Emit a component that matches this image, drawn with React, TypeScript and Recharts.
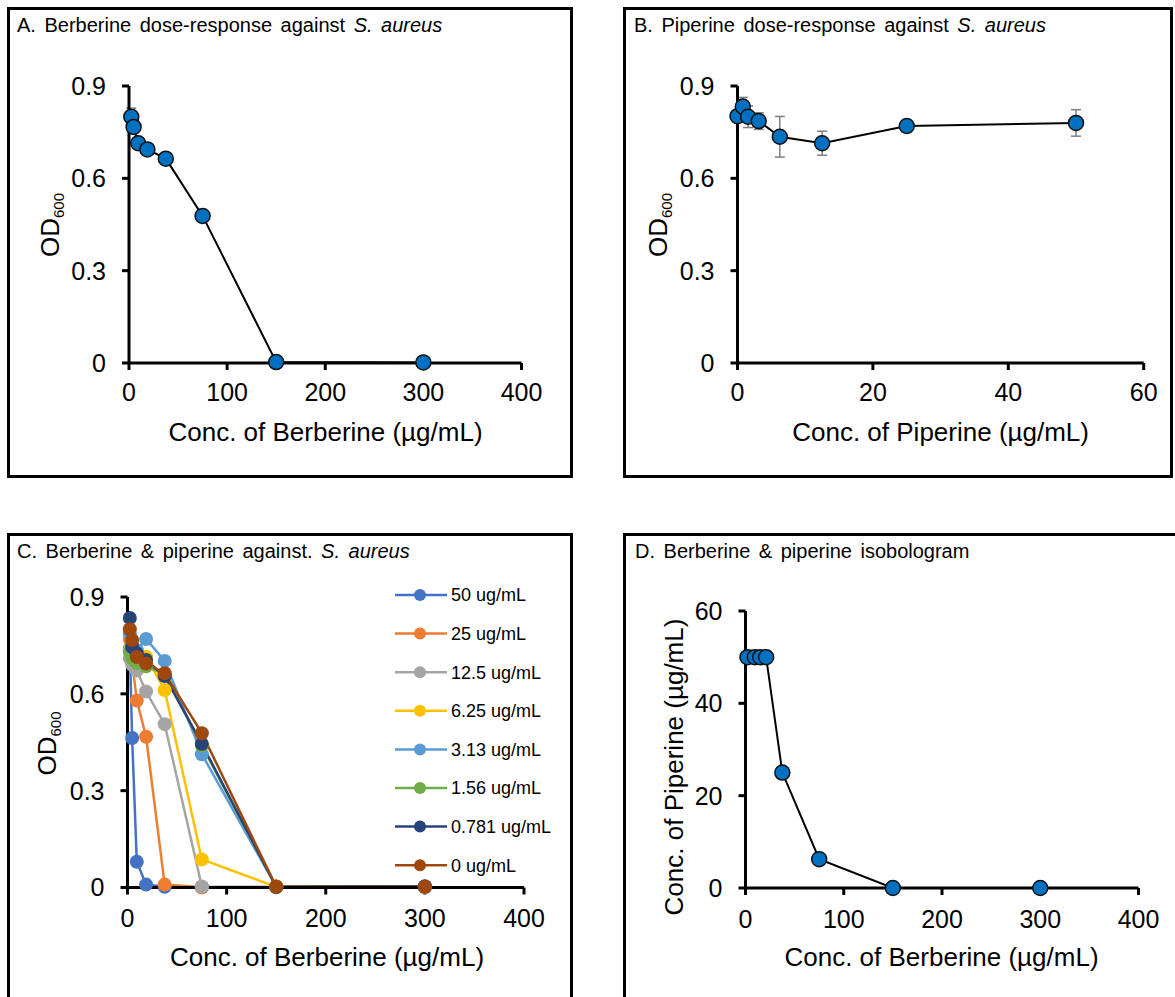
import React from "react";
import { LineChart, Line, XAxis, YAxis, ErrorBar, Legend } from "recharts";

const font = "'Liberation Sans', Arial, sans-serif";

// berberine two-fold dilution series (µg/mL)
const berberineConc = [2.34, 4.69, 9.38, 18.75, 37.5, 75, 150, 300];
const berberineOd = [0.8, 0.767, 0.714, 0.694, 0.664, 0.478, 0.003, 0.002];
const berberineErr = [0.028, 0.02, 0.015, 0.01, 0.01, 0.008, 0.002, 0.001];

// piperine alone (µg/mL)
const piperineConc = [0, 0.781, 1.56, 3.13, 6.25, 12.5, 25, 50];
const piperineOd = [0.802, 0.833, 0.8, 0.786, 0.735, 0.714, 0.77, 0.78];
const piperineErr = [0.01, 0.03, 0.035, 0.027, 0.066, 0.039, 0.02, 0.043];

// berberine + fixed piperine, one array per piperine level
const comboLabels = [
  "50 ug/mL",
  "25 ug/mL",
  "12.5 ug/mL",
  "6.25 ug/mL",
  "3.13 ug/mL",
  "1.56 ug/mL",
  "0.781 ug/mL",
  "0 ug/mL",
];
const od50 = [0.74, 0.463, 0.08, 0.009, 0.002, 0.001, 0.001, 0.001];
const od25 = [0.77, 0.7, 0.579, 0.467, 0.009, 0.001, 0.001, 0.001];
const od12_5 = [0.71, 0.69, 0.672, 0.607, 0.506, 0.003, 0.002, 0.002];
const od6_25 = [0.735, 0.725, 0.72, 0.715, 0.612, 0.087, 0.002, 0.002];
const od3_13 = [0.785, 0.75, 0.735, 0.77, 0.702, 0.413, 0.002, 0.002];
const od1_56 = [0.73, 0.71, 0.695, 0.685, 0.66, 0.44, 0.002, 0.002];
const od0_781 = [0.835, 0.745, 0.725, 0.705, 0.655, 0.445, 0.002, 0.004];
const comboValues = [od50, od25, od12_5, od6_25, od3_13, od1_56, od0_781, berberineOd];
const comboColors = ["#4472C4", "#ED7D31", "#A5A5A5", "#FFC000", "#5B9BD5", "#70AD47", "#264478", "#9E480E"];

// isobologram: berberine vs piperine at inhibition
const isoBerberine = [2, 9.5, 15, 21, 37.5, 75, 150, 300];
const isoPiperine = [50, 50, 50, 50, 25, 6.25, 0, 0];

const odTicks = [0, 0.3, 0.6, 0.9];
const berberineTicks = [0, 100, 200, 300, 400];
const piperineTicks = [0, 20, 40, 60];

const dataA = berberineConc.map((x, i) => ({ x, y: berberineOd[i], err: berberineErr[i] }));
const dataB = piperineConc.map((x, i) => ({ x, y: piperineOd[i], err: piperineErr[i] }));
const dataC = berberineConc.map((x, i) => {
  const row: Record<string, number> = { x };
  comboValues.forEach((vals, k) => {
    row[`s${k}`] = vals[i];
  });
  return row;
});
const dataD = isoBerberine.map((x, i) => ({ x, y: isoPiperine[i] }));

const axisLine = { stroke: "#000", strokeWidth: 3 };
const tickStyle = { fill: "#000", fontSize: 25, fontFamily: font };
const blueDot = { r: 7.5, fill: "#0070C0", stroke: "#111", strokeWidth: 1.5 };

const Frame = ({ left, top, width, height }: { left: number; top: number; width: number; height: number }) => (
  <div
    style={{
      position: "absolute",
      left,
      top,
      width,
      height,
      border: "3px solid #000",
      boxSizing: "border-box",
    }}
  />
);

const Title = ({ left, top, children }: { left: number; top: number; children: React.ReactNode }) => (
  <div
    style={{
      position: "absolute",
      left,
      top,
      fontSize: 20,
      lineHeight: "20px",
      wordSpacing: 3,
      whiteSpace: "nowrap",
      color: "#000",
    }}
  >
    {children}
  </div>
);

const odTitle = (x: number, y: number) => () =>
  (
    <text transform={`translate(${x},${y}) rotate(-90)`} textAnchor="middle" fontSize={26} fontFamily={font} fill="#000">
      OD
      <tspan fontSize={15} dy={5}>
        600
      </tspan>
    </text>
  );

const plainTitle = (x: number, y: number, text: string, rotate = false) => () =>
  (
    <text
      transform={rotate ? `translate(${x},${y}) rotate(-90)` : `translate(${x},${y})`}
      textAnchor="middle"
      fontSize={26}
      fontFamily={font}
      fill="#000"
    >
      {text}
    </text>
  );

const ComboLegend = () => (
  <svg width={180} height={320} style={{ display: "block" }}>
    {comboLabels.map((label, i) => {
      const cy = 13 + i * 38.6;
      return (
        <g key={label}>
          <line x1={3} x2={55} y1={cy} y2={cy} stroke={comboColors[i]} strokeWidth={2.5} />
          <circle cx={28} cy={cy} r={6} fill={comboColors[i]} />
          <text x={59} y={cy} dy="0.35em" fontSize={18} fontFamily={font} fill="#000">
            {label}
          </text>
        </g>
      );
    })}
  </svg>
);

export default function App() {
  return (
    <div
      style={{
        position: "absolute",
        left: 0,
        top: 0,
        width: 1175,
        height: 997,
        overflow: "hidden",
        background: "#fff",
        fontFamily: font,
      }}
    >
      <Frame left={7} top={7} width={566} height={471} />
      <Frame left={623} top={7} width={550} height={471} />
      <Frame left={7} top={533} width={566} height={480} />
      <Frame left={623} top={533} width={560} height={480} />

      <Title left={17} top={15}>
        A. Berberine dose-response against <i>S. aureus</i>
      </Title>
      <Title left={634} top={15}>
        B. Piperine dose-response against <i>S. aureus</i>
      </Title>
      <Title left={17} top={541}>
        C. Berberine &amp; piperine against. <i>S. aureus</i>
      </Title>
      <Title left={635} top={541}>
        D. Berberine &amp; piperine isobologram
      </Title>

      {/* A: berberine alone */}
      <div style={{ position: "absolute", left: 8, top: 8 }}>
        <LineChart width={564} height={469} data={dataA} margin={{ left: 0, top: 78, right: 50.5, bottom: 0 }}>
          <XAxis
            type="number"
            dataKey="x"
            domain={[0, 400]}
            ticks={berberineTicks}
            interval={0}
            height={114}
            axisLine={axisLine}
            tickLine={axisLine}
            tickSize={7}
            tickMargin={13}
            tick={tickStyle}
            label={plainTitle(317.5, 433, "Conc. of Berberine (µg/mL)")}
          />
          <YAxis
            type="number"
            domain={[0, 0.9]}
            ticks={odTicks}
            interval={0}
            width={121}
            axisLine={axisLine}
            tickLine={axisLine}
            tickSize={7}
            tickMargin={16}
            tick={tickStyle}
            label={odTitle(51, 217)}
          />
          <Line
            dataKey="y"
            stroke="#000"
            strokeWidth={2}
            dot={blueDot}
            activeDot={false}
            isAnimationActive={false}
          >
            <ErrorBar dataKey="err" direction="y" width={5} stroke="#7f7f7f" strokeWidth={1.5} />
          </Line>
        </LineChart>
      </div>

      {/* B: piperine alone */}
      <div style={{ position: "absolute", left: 624, top: 8 }}>
        <LineChart width={548} height={469} data={dataB} margin={{ left: 0, top: 78, right: 28.3, bottom: 0 }}>
          <XAxis
            type="number"
            dataKey="x"
            domain={[0, 60]}
            ticks={piperineTicks}
            interval={0}
            height={114}
            axisLine={axisLine}
            tickLine={axisLine}
            tickSize={7}
            tickMargin={13}
            tick={tickStyle}
            label={plainTitle(316.6, 433, "Conc. of Piperine (µg/mL)")}
          />
          <YAxis
            type="number"
            domain={[0, 0.9]}
            ticks={odTicks}
            interval={0}
            width={113.5}
            axisLine={axisLine}
            tickLine={axisLine}
            tickSize={7}
            tickMargin={16}
            tick={tickStyle}
            label={odTitle(42.5, 217)}
          />
          <Line
            dataKey="y"
            stroke="#000"
            strokeWidth={2}
            dot={blueDot}
            activeDot={false}
            isAnimationActive={false}
          >
            <ErrorBar dataKey="err" direction="y" width={5} stroke="#7f7f7f" strokeWidth={1.5} />
          </Line>
        </LineChart>
      </div>

      {/* C: berberine with fixed piperine levels */}
      <div style={{ position: "absolute", left: 8, top: 534 }}>
        <LineChart width={564} height={463} data={dataC} margin={{ left: 0, top: 63, right: 48, bottom: 0 }}>
          <XAxis
            type="number"
            dataKey="x"
            domain={[0, 400]}
            ticks={berberineTicks}
            interval={0}
            height={109.5}
            axisLine={axisLine}
            tickLine={axisLine}
            tickSize={7}
            tickMargin={15}
            tick={tickStyle}
            label={plainTitle(319, 432, "Conc. of Berberine (µg/mL)")}
          />
          <YAxis
            type="number"
            domain={[0, 0.9]}
            ticks={odTicks}
            interval={0}
            width={119.5}
            axisLine={axisLine}
            tickLine={axisLine}
            tickSize={7}
            tickMargin={16}
            tick={tickStyle}
            label={odTitle(48, 209.5)}
          />
          {comboLabels.map((label, k) => (
            <Line
              key={label}
              name={label}
              dataKey={`s${k}`}
              stroke={comboColors[k]}
              strokeWidth={2.5}
              dot={{ r: 7, fill: comboColors[k], stroke: comboColors[k], strokeWidth: 0 }}
              activeDot={false}
              isAnimationActive={false}
            />
          ))}
          <Legend
            layout="vertical"
            align="center"
            verticalAlign="middle"
            wrapperStyle={{ left: 384, top: 48, width: 180, height: 320 }}
            content={ComboLegend}
          />
        </LineChart>
      </div>

      {/* D: isobologram */}
      <div style={{ position: "absolute", left: 624, top: 534 }}>
        <LineChart width={551} height={463} data={dataD} margin={{ left: 0, top: 77, right: 36.5, bottom: 0 }}>
          <XAxis
            type="number"
            dataKey="x"
            domain={[0, 400]}
            ticks={berberineTicks}
            interval={0}
            height={109}
            axisLine={axisLine}
            tickLine={axisLine}
            tickSize={7}
            tickMargin={15}
            tick={tickStyle}
            label={plainTitle(317.5, 432, "Conc. of Berberine (µg/mL)")}
          />
          <YAxis
            type="number"
            domain={[0, 60]}
            ticks={piperineTicks}
            interval={0}
            width={121.5}
            axisLine={axisLine}
            tickLine={axisLine}
            tickSize={7}
            tickMargin={16}
            tick={tickStyle}
            label={plainTitle(59, 233, "Conc. of Piperine (µg/mL)", true)}
          />
          <Line
            dataKey="y"
            stroke="#000"
            strokeWidth={2}
            dot={blueDot}
            activeDot={false}
            isAnimationActive={false}
          />
        </LineChart>
      </div>
    </div>
  );
}
